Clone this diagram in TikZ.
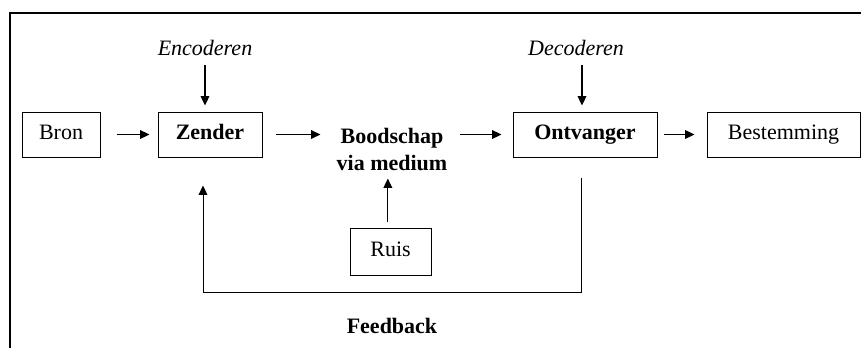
\documentclass[tikz,border=0pt]{standalone}
\usepackage{fontspec}
\setmainfont{Liberation Serif}
\usetikzlibrary{arrows.meta}
\begin{document}
\begin{tikzpicture}[x=0.75pt,y=-0.75pt,
  every node/.style={font=\fontsize{16.5}{20.25}\selectfont},
  box/.style={draw, line width=0.75pt, minimum height=33.75pt, inner sep=0pt,
              text height=11.5pt, text depth=3.5pt},
  lbl/.style={inner sep=0pt, font=\fontsize{16.5}{20.25}\selectfont\itshape},
  arr/.style={line width=0.8pt, -{Triangle[length=7pt,width=6.5pt]}}]
\useasboundingbox (0,0) rectangle (861,347);
% frame
\draw[line width=1.9pt] (10,360) -- (10,13) -- (870,13);
% boxes
\node[box, minimum width=58.5pt] (bron) at (61,134.5) {Bron};
\node[box, minimum width=78pt, font=\fontsize{16.5}{20.25}\selectfont\bfseries] (zender) at (210,134.5) {Zender};
\node[inner sep=0pt, align=center, font=\fontsize{16.5}{20.25}\selectfont\bfseries] (bood) at (392,149) {Boodschap\\via medium};
\node[box, minimum width=108pt, font=\fontsize{16.5}{20.25}\selectfont\bfseries] (ontv) at (585,134.5) {Ontvanger};
\node[box, minimum width=114.75pt] (best) at (783.5,134.5) {Bestemming};
\node[box, minimum width=60.75pt, minimum height=35.25pt] (ruis) at (390.5,251.5) {Ruis};
% labels
\node[lbl, anchor=base] (enc) at (205,55) {Encoderen};
\node[lbl, anchor=base] (dec) at (576,55) {Decoderen};
\node[inner sep=0pt, anchor=base, font=\fontsize{16.5}{20.25}\selectfont\bfseries] (fb) at (392,333) {Feedback};
% arrows
\draw[arr, shorten <=12pt, shorten >=6pt] (bron) -- (zender);
\draw[arr, shorten <=9.75pt, shorten >=12pt] (zender) -- (bood.west |- zender);
\draw[arr, shorten <=9pt, shorten >=8.25pt] (bood.east |- ontv) -- (ontv);
\draw[arr, shorten <=4.5pt, shorten >=9pt] (ontv) -- (best);
\draw[arr, shorten <=7.5pt, shorten >=4.5pt] (enc.south) -- (enc.south |- zender.north);
\draw[arr, shorten <=7.5pt, shorten >=4.5pt] ([xshift=4.5pt]dec.south) -- ([xshift=4.5pt]dec.south |- ontv.north);
\draw[arr, shorten <=4.5pt, shorten >=6pt] ([xshift=-2pt]ruis.north) -- ([xshift=-2pt]ruis.north |- bood.south);
% feedback loop
\coordinate (fbR) at (581,292);
\coordinate (fbL) at (203,292);
\draw[arr, line width=0.7pt, shorten <=15pt, shorten >=21pt] (fbR |- ontv.south) -- (fbR) -- (fbL) -- (fbL |- zender.south);
\end{tikzpicture}
\end{document}
